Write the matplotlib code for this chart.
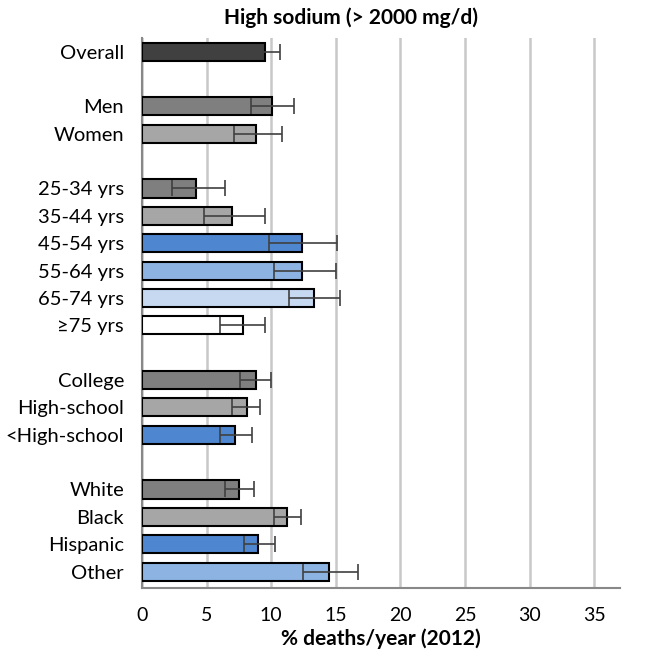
import numpy as np
import matplotlib
matplotlib.use("Agg")
import matplotlib.pyplot as plt

plt.rcParams['font.family'] = ['Lato', 'DejaVu Sans']

# rows (blank gaps between groups)
labels = ['Overall', '', 'Men', 'Women', '',
          '25-34 yrs', '35-44 yrs', '45-54 yrs', '55-64 yrs', '65-74 yrs', '\u226575 yrs', '',
          'College', 'High-school', '<High-school', '',
          'White', 'Black', 'Hispanic', 'Other']
values = [9.5, None, 10.1, 8.8, None,
          4.2, 7.0, 12.4, 12.4, 13.3, 7.8, None,
          8.8, 8.1, 7.2, None,
          7.5, 11.2, 9.0, 14.5]
lower = [8.3, None, 8.4, 7.1, None,
         2.3, 4.8, 9.8, 10.2, 11.4, 6.0, None,
         7.6, 7.0, 6.0, None,
         6.4, 10.2, 7.9, 12.5]
upper = [10.7, None, 11.8, 10.8, None,
         6.4, 9.5, 15.1, 15.0, 15.3, 9.5, None,
         10.0, 9.1, 8.5, None,
         8.7, 12.3, 10.3, 16.7]
colors = ['#404040', None, '#7f7f7f', '#a6a6a6', None,
          '#7f7f7f', '#a6a6a6', '#4f86d0', '#8db3e2', '#c6d9f1', '#ffffff', None,
          '#7f7f7f', '#a6a6a6', '#4f86d0', None,
          '#7f7f7f', '#a6a6a6', '#4f86d0', '#8db3e2']
xticks = [0, 5, 10, 15, 20, 25, 30, 35]

fig = plt.figure(figsize=(6.45, 6.56), dpi=100)
ax = fig.add_axes([142/645, 1-588/656, (620-142)/645, (588-38)/656])

for i, v in enumerate(values):
    if v is None:
        continue
    ax.barh(i, v, height=0.66, color=colors[i], edgecolor='black', linewidth=1.5, zorder=3)
    ax.errorbar(v, i, xerr=[[v - lower[i]], [upper[i] - v]], fmt='none',
                ecolor='#404040', elinewidth=1.2, capsize=6, capthick=1.2, zorder=4)

ax.set_ylim(19.6, -0.5)
ax.set_xlim(0, 37)
ax.set_yticks(range(len(labels)))
ax.set_yticklabels(labels, fontsize=14.5)
ax.set_xticks(xticks)
ax.set_xticklabels([str(t) for t in xticks], fontsize=14)
ax.tick_params(length=0)
ax.tick_params(axis='y', pad=13)
ax.tick_params(axis='x', pad=14)
ax.xaxis.grid(True, color='#c8c8c8', linewidth=1.8, zorder=0)
ax.set_axisbelow(True)
for s in ['top', 'right']:
    ax.spines[s].set_visible(False)
for s in ['left', 'bottom']:
    ax.spines[s].set_color('#888888')
    ax.spines[s].set_linewidth(1.5)

ax.set_xlabel('% deaths/year (2012)', fontsize=15, fontweight='bold', labelpad=3)
fig.text(351/645, 1 - 18/656, 'High sodium (> 2000 mg/d)', fontsize=15, fontweight='bold',
         ha='center', va='center')

fig.savefig('out.png', dpi=100)
